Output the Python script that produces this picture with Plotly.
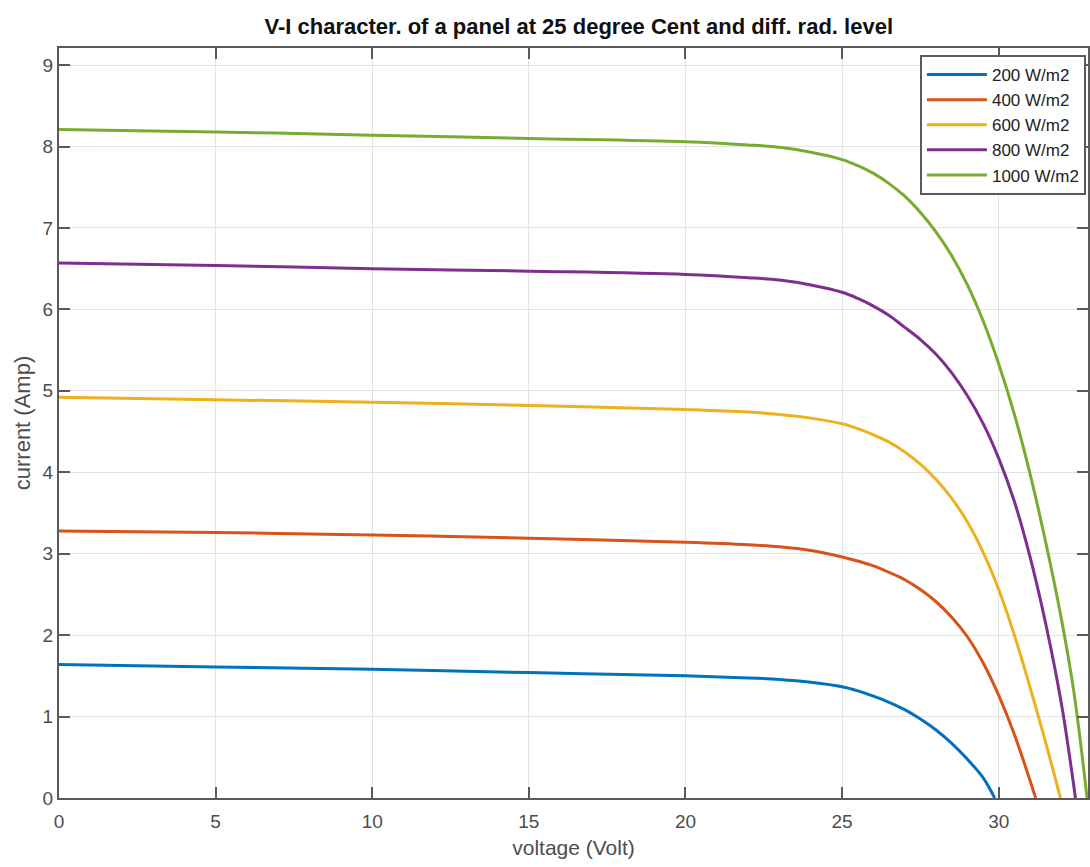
import plotly.graph_objects as go

# Irradiance levels (legend labels)
labels = ["200 W/m2", "400 W/m2", "600 W/m2", "800 W/m2", "1000 W/m2"]
colors = ["#0072BD", "#D95319", "#EDB120", "#7E2F8E", "#77AC30"]

# Voltage (V) / current (A) points
v_200 = [0, 5, 10, 15, 20, 22, 23, 24, 25, 25.5, 26, 26.5, 27, 27.5, 28, 28.5, 29, 29.5, 29.87]
i_200 = [1.64, 1.61, 1.58, 1.54, 1.50, 1.475, 1.455, 1.42, 1.365, 1.315, 1.25, 1.175, 1.085, 0.97, 0.835, 0.67, 0.475, 0.25, 0.0]

v_400 = [0, 5, 10, 15, 20, 22, 23, 24, 25, 25.5, 26, 26.5, 27, 27.5, 28, 28.5, 29, 29.5, 30, 30.5, 31.18]
i_400 = [3.28, 3.26, 3.23, 3.19, 3.14, 3.11, 3.085, 3.04, 2.96, 2.91, 2.85, 2.77, 2.68, 2.56, 2.41, 2.22, 1.98, 1.66, 1.26, 0.78, 0.0]

v_600 = [0, 5, 10, 15, 20, 22, 23, 24, 25, 25.5, 26, 26.5, 27, 27.5, 28, 28.5, 29, 29.5, 30, 30.5, 31, 31.5, 31.97]
i_600 = [4.92, 4.89, 4.86, 4.82, 4.77, 4.74, 4.71, 4.665, 4.595, 4.535, 4.46, 4.37, 4.25, 4.10, 3.91, 3.68, 3.39, 3.02, 2.56, 2.00, 1.36, 0.68, 0.0]

v_800 = [0, 5, 10, 15, 20, 22, 23, 24, 25, 25.5, 26, 26.5, 27, 27.5, 28, 28.5, 29, 29.5, 30, 30.5, 31, 31.5, 32, 32.45]
i_800 = [6.57, 6.54, 6.50, 6.47, 6.43, 6.39, 6.36, 6.30, 6.21, 6.135, 6.04, 5.925, 5.78, 5.63, 5.45, 5.22, 4.94, 4.60, 4.17, 3.64, 2.96, 2.14, 1.16, 0.0]

v_1000 = [0, 5, 10, 15, 20, 22, 23, 24, 25, 25.5, 26, 26.5, 27, 27.5, 28, 28.5, 29, 29.5, 30, 30.5, 31, 31.5, 32, 32.4, 32.82]
i_1000 = [8.21, 8.18, 8.14, 8.10, 8.06, 8.02, 7.99, 7.93, 7.84, 7.765, 7.67, 7.545, 7.39, 7.19, 6.95, 6.66, 6.30, 5.86, 5.33, 4.71, 3.98, 3.14, 2.20, 1.30, 0.0]

volts = [v_200, v_400, v_600, v_800, v_1000]
amps = [i_200, i_400, i_600, i_800, i_1000]

x_ticks = [0, 5, 10, 15, 20, 25, 30]
y_ticks = [0, 1, 2, 3, 4, 5, 6, 7, 8, 9]

fig = go.Figure()
for lab, col, v, i in zip(labels, colors, volts, amps):
    fig.add_trace(go.Scatter(
        x=v, y=i, mode="lines", name=lab,
        line=dict(color=col, width=3, shape="spline", smoothing=1.0),
    ))

font_family = "Liberation Sans, Arial, sans-serif"
axis_common = dict(
    showline=True, linecolor="#5a5a5a", linewidth=2, mirror="ticks",
    ticks="inside", ticklen=11, tickwidth=2, tickcolor="#5a5a5a",
    showgrid=True, gridcolor="#e3e3e3", gridwidth=1, zeroline=False,
    tickfont=dict(family=font_family, size=19, color="#4d4d4d"),
)

fig.update_layout(
    width=1090, height=867,
    margin=dict(l=59, r=0, t=48, b=69),
    paper_bgcolor="white", plot_bgcolor="white",
    title=dict(
        text="<b>V-I character. of a panel at 25 degree Cent and diff. rad. level</b>",
        font=dict(family=font_family, size=22, color="#111111"),
        x=0.531, xref="container", xanchor="center",
        y=1 - 26 / 867, yref="container", yanchor="middle",
    ),
    xaxis=dict(
        range=[0, 32.85], tickvals=x_ticks, ticktext=[str(t) for t in x_ticks],
        ticklabelstandoff=5,
        title=dict(text="voltage (Volt)", font=dict(family=font_family, size=21, color="#4d4d4d"), standoff=10),
        **axis_common,
    ),
    yaxis=dict(
        range=[0, 9.21], tickvals=y_ticks, ticktext=[str(t) for t in y_ticks],
        title=dict(text="current (Amp)", font=dict(family=font_family, size=22, color="#4d4d4d"), standoff=6),
        **axis_common,
    ),
    legend=dict(
        x=0.998, xanchor="right", y=1 - 7 / 750, yanchor="top",
        bgcolor="white", bordercolor="#5a5a5a", borderwidth=2,
        font=dict(family=font_family, size=17, color="#222222"),
        itemwidth=60, tracegroupgap=0,
    ),
    showlegend=True,
)

fig.write_html("out.html")
